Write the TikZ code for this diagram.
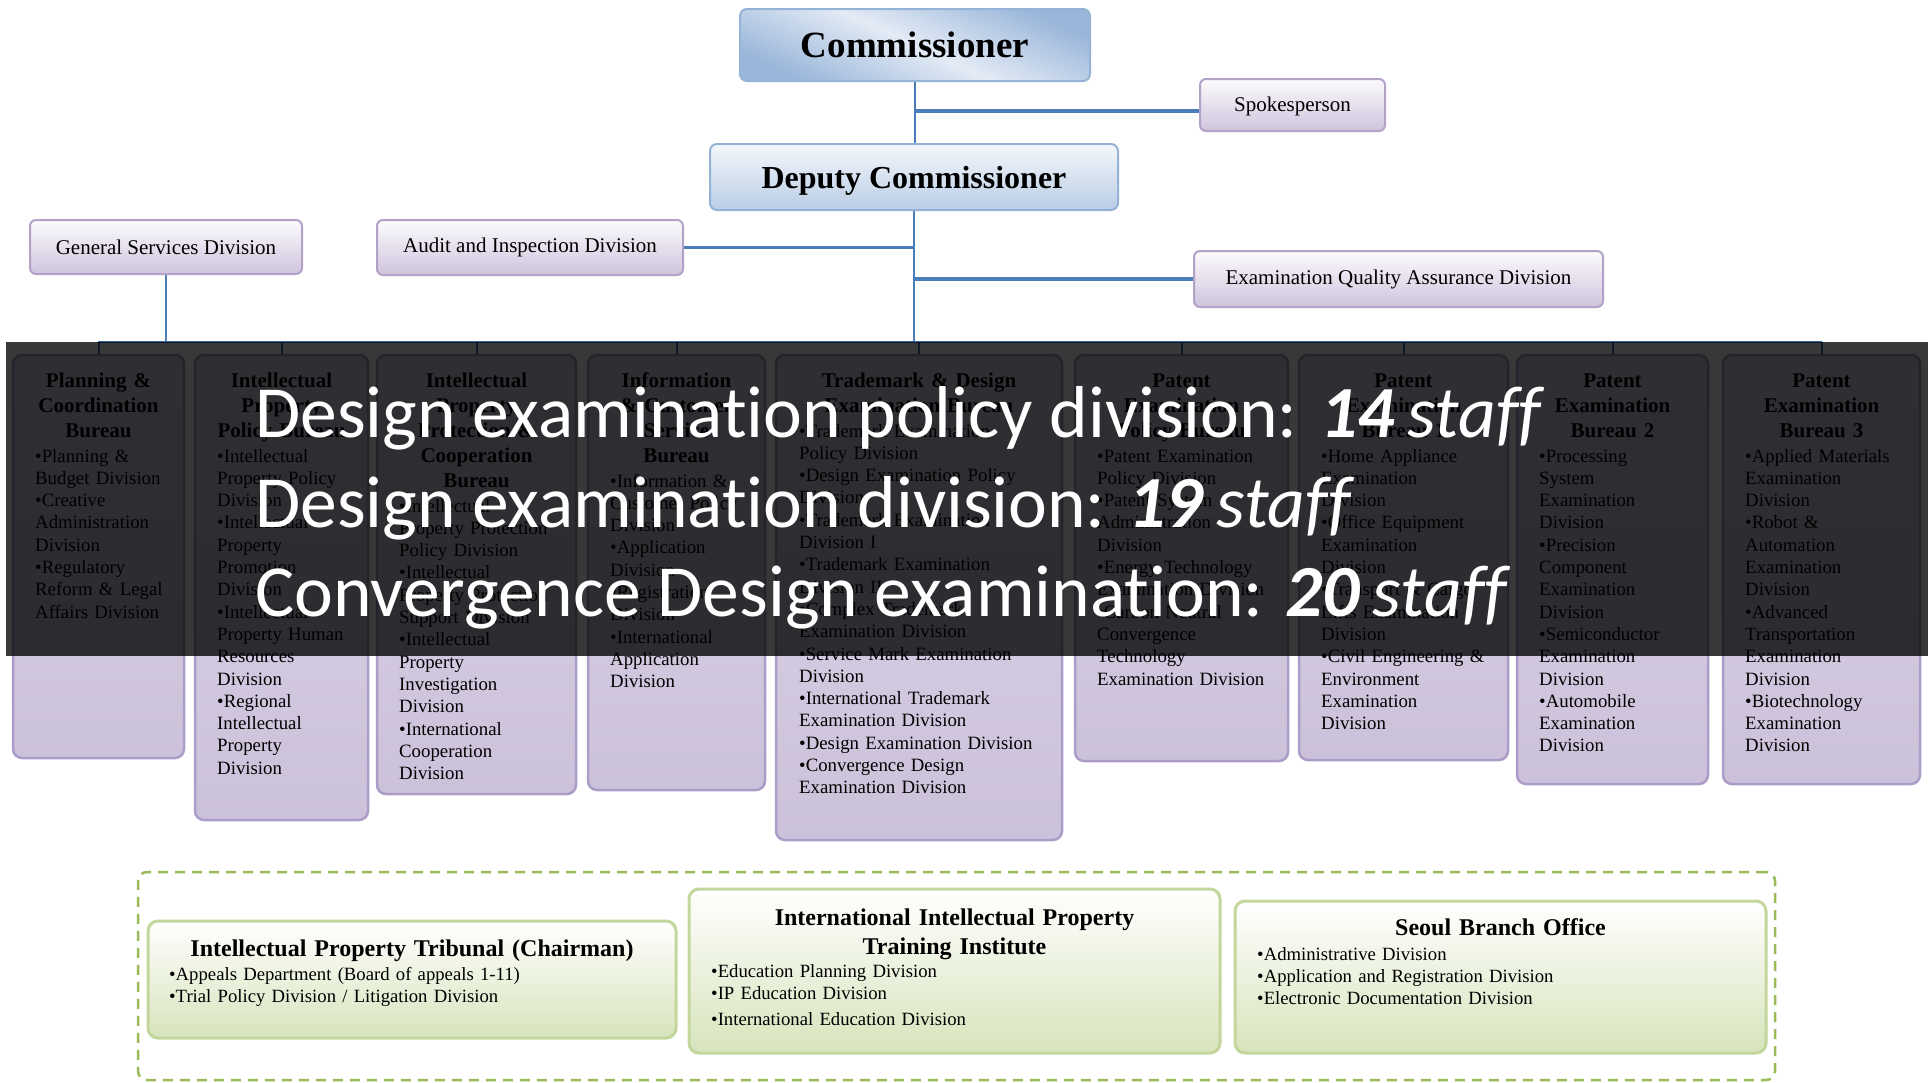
\documentclass[tikz,border=0pt]{standalone}
\usepackage{fontspec}
\setmainfont{Liberation Serif}
\newfontfamily\calfont[Ligatures=NoCommon]{Carlito}
\definecolor{lineblue}{HTML}{4A7EBB}
\definecolor{busblue}{HTML}{3A66A8}
\definecolor{commdark}{HTML}{9AB6DA}
\definecolor{commlight}{HTML}{E3EBF5}
\definecolor{commborder}{HTML}{95B3D7}
\definecolor{deptop}{HTML}{F4F7FB}
\definecolor{depbot}{HTML}{B9CDE5}
\definecolor{purpborder}{HTML}{B3A2C7}
\definecolor{purptop}{HTML}{FCFBFD}
\definecolor{purpbot}{HTML}{CFC4DD}
\definecolor{burtop}{HTML}{DCD4E7}
\definecolor{burbot}{HTML}{CCC1DA}
\definecolor{burborder}{HTML}{AB9DC8}
\definecolor{grnborder}{HTML}{C3D69B}
\definecolor{grnbot}{HTML}{D7E4BC}
\definecolor{dashgreen}{HTML}{9BBB59}
\tikzset{
  commbox/.style={draw=commborder, line width=2pt, rounded corners=7pt, inner sep=0pt,
    shading=axis, left color=commdark, right color=commdark, middle color=commlight, shading angle=-25,
    font=\bfseries\fontsize{37}{40}\selectfont},
  depbox/.style={draw=commborder, line width=2pt, rounded corners=7pt, inner sep=0pt,
    top color=deptop, bottom color=depbot, font=\bfseries\fontsize{32}{36}\selectfont},
  purpbox/.style={draw=purpborder, line width=2pt, rounded corners=6pt, inner sep=0pt,
    top color=purptop, bottom color=purpbot, font=\fontsize{21}{24}\selectfont},
  bureau/.style={draw=burborder, line width=2.5pt, rounded corners=9pt, inner sep=0pt,
    top color=burtop, bottom color=burbot},
  grnbox/.style={draw=grnborder, line width=3pt, rounded corners=10pt, inner sep=0pt,
    top color=white, bottom color=grnbot},
  dashbox/.style={draw=dashgreen, line width=2.5pt, dash pattern=on 10pt off 7pt, rounded corners=9pt, inner sep=0pt},
  btitle/.style={anchor=base, inner sep=0pt, align=center, font=\bfseries\fontsize{21}{25}\selectfont},
  bbody/.style={anchor=base west, inner sep=0pt, text width=330pt, align=left, font=\fontsize{18.8}{22.3}\selectfont},
  gtitle/.style={anchor=base, inner sep=0pt, align=center, font=\bfseries\fontsize{24}{29}\selectfont},
  gbody/.style={anchor=base west, inner sep=0pt, text width=500pt, align=left, font=\fontsize{18.7}{22}\selectfont},
  vline/.style={draw=lineblue, line width=2pt},
  spoke/.style={draw=lineblue, line width=3.5pt},
  busline/.style={draw=busblue, line width=2pt},
  ovtext/.style={anchor=base west, inner sep=0pt, text=white, font=\calfont\fontsize{73.5}{89}\selectfont}
}
\begin{document}
\begin{tikzpicture}[x=1pt,y=-1pt]
\useasboundingbox (0,0) rectangle (1930,1082);
\fill[white] (0,0) rectangle (1930,1082);
% ---------- top boxes
\node[commbox, minimum width=350, minimum height=72, text depth=-2pt] (comm) at (915,45) {Commissioner};
\node[depbox, minimum width=408, minimum height=66, text depth=-4pt] (dep) at (914,177) {Deputy Commissioner};
\node[purpbox, minimum width=185, minimum height=52, text depth=1pt] (spk) at (1292.5,105) {Spokesperson};
\node[purpbox, minimum width=272, minimum height=54] (gs) at (166,247) {General Services Division};
\node[purpbox, minimum width=306, minimum height=55] (aud) at (530,247.5) {Audit and Inspection Division};
\node[purpbox, minimum width=409, minimum height=56] (eqa) at (1398.5,279) {Examination Quality Assurance Division};
% ---------- bureau boxes
\node[bureau, minimum width=171, minimum height=403] (b1) at (98.5,556.5) {};
\node[bureau, minimum width=173, minimum height=465] (b2) at (281.5,587.5) {};
\node[bureau, minimum width=199, minimum height=439] (b3) at (476.5,574.5) {};
\node[bureau, minimum width=177, minimum height=435] (b4) at (676.5,572.5) {};
\node[bureau, minimum width=286, minimum height=485] (b5) at (919,597.5) {};
\node[bureau, minimum width=213, minimum height=406] (b6) at (1181.5,558) {};
\node[bureau, minimum width=209, minimum height=405] (b7) at (1403.5,557.5) {};
\node[bureau, minimum width=191, minimum height=429] (b8) at (1612.5,569.5) {};
\node[bureau, minimum width=197, minimum height=429] (b9) at (1821.5,569.5) {};
% ---------- connectors
\coordinate (busL) at (98,342);
\coordinate (busR) at (1822,342);
\draw[vline] (comm.south) -- (comm.south |- dep.north);
\draw[spoke] ([yshift=-6pt]spk.west) -- ([yshift=-6pt]spk.west -| comm.south);
\draw[vline] (dep.south) -- (dep.south |- busL);
\draw[spoke] (aud.east) -- (aud.east -| dep.south);
\draw[spoke] (eqa.west) -- (eqa.west -| dep.south);
\draw[vline] (gs.south) -- (gs.south |- busL);
\draw[busline] (busL) -- (busR);
\foreach \b in {b1,b2,b3,b4,b5,b6,b7,b8,b9} {\draw[busline] (\b.north |- busL) -- (\b.north);}
% ---------- bureau texts
\node[btitle, text width=150] (b1t) at (98.5,387) {Planning \&\\Coordination\\Bureau};
\node[bbody] (b1b) at (35,462) {•Planning \&\\Budget Division\\•Creative\\Administration\\Division\\•Regulatory\\Reform \& Legal\\Affairs Division};
\node[btitle, text width=150] (b2t) at (281.5,387) {Intellectual\\Property\\Policy Bureau};
\node[bbody] (b2b) at (217,462) {•Intellectual\\Property Policy\\Division\\•Intellectual\\Property\\Promotion\\Division\\•Intellectual\\Property Human\\Resources\\Division\\•Regional\\Intellectual\\Property\\Division};
\node[btitle, text width=180] (b3t) at (476.5,387) {Intellectual\\Property\\Protection \&\\Cooperation\\Bureau};
\node[bbody] (b3b) at (399,512) {•Intellectual\\Property Protection\\Policy Division\\•Intellectual\\Property Protection\\Support Division\\•Intellectual\\Property\\Investigation\\Division\\•International\\Cooperation\\Division};
\node[btitle, text width=160] (b4t) at (676.5,387) {Information\\\& Customer\\Service\\Bureau};
\node[bbody] (b4b) at (610,487) {•Information \&\\Customer Policy\\Division\\•Application\\Division\\•Registration\\Division\\•International\\Application\\Division};
\node[btitle, text width=260] (b5t) at (919,387) {Trademark \& Design\\Examination Bureau};
\node[bbody] (b5b) at (799,437) {•Trademark Examination\\Policy Division\\•Design Examination Policy\\Division\\•Trademark Examination\\Division I\\•Trademark Examination\\Division II\\•Complex Trademark\\Examination Division\\•Service Mark Examination\\Division\\•International Trademark\\Examination Division\\•Design Examination Division\\•Convergence Design\\Examination Division};
\node[btitle, text width=190] (b6t) at (1181.5,387) {Patent\\Examination\\Policy Bureau};
\node[bbody] (b6b) at (1097,462) {•Patent Examination\\Policy Division\\•Patent System\\Administration\\Division\\•Energy Technology\\Examination Division\\•Carbon Neutral\\Convergence\\Technology\\Examination Division};
\node[btitle, text width=190] (b7t) at (1403.5,387) {Patent\\Examination\\Bureau 1};
\node[bbody] (b7b) at (1321,462) {•Home Appliance\\Examination\\Division\\•Office Equipment\\Examination\\Division\\•Transport \& Cargo\\Lifts Examination\\Division\\•Civil Engineering \&\\Environment\\Examination\\Division};
\node[btitle, text width=170] (b8t) at (1612.5,387) {Patent\\Examination\\Bureau 2};
\node[bbody] (b8b) at (1539,462) {•Processing\\System\\Examination\\Division\\•Precision\\Component\\Examination\\Division\\•Semiconductor\\Examination\\Division\\•Automobile\\Examination\\Division};
\node[btitle, text width=175] (b9t) at (1821.5,387) {Patent\\Examination\\Bureau 3};
\node[bbody] (b9b) at (1745,462) {•Applied Materials\\Examination\\Division\\•Robot \&\\Automation\\Examination\\Division\\•Advanced\\Transportation\\Examination\\Division\\•Biotechnology\\Examination\\Division};
% ---------- bottom group
\node[dashbox, minimum width=1637, minimum height=208] (grp) at (956.5,976) {};
\node[grnbox, minimum width=528, minimum height=117] (trib) at (412,979.5) {};
\node[grnbox, minimum width=531, minimum height=164] (tii) at (954.5,971) {};
\node[grnbox, minimum width=531, minimum height=152] (seoul) at (1500.5,977) {};
\node[gtitle, text width=520] (tribt) at (412,956) {Intellectual Property Tribunal (Chairman)};
\node[gbody] (tribb) at (169,980) {•Appeals Department (Board of appeals 1-11)\\•Trial Policy Division / Litigation Division};
\node[gtitle, text width=520] (tiit) at (954.5,925) {International Intellectual Property\\Training Institute};
\node[gbody] (tiib) at (711,977) {•Education Planning Division\\•IP Education Division\\[4pt]•International Education Division};
\node[gtitle, text width=520] (seoult) at (1500.5,935) {Seoul Branch Office};
\node[gbody] (seoulb) at (1257,960) {•Administrative Division\\•Application and Registration Division\\•Electronic Documentation Division};
% ---------- overlay
\fill[black, opacity=0.78] (6,342) rectangle (1928,656);
\node[ovtext] (ov1) at (255,437) {Design examination policy division: \textbf{\textit{14}}\,\textit{staff}};
\node[ovtext] (ov2) at (255,527) {Design examination division: \textbf{\textit{19}}\,\textit{staff}};
\node[ovtext] (ov3) at (255,616) {Convergence Design examination: \textbf{\textit{20}}\,\textit{staff}};
\end{tikzpicture}
\end{document}
